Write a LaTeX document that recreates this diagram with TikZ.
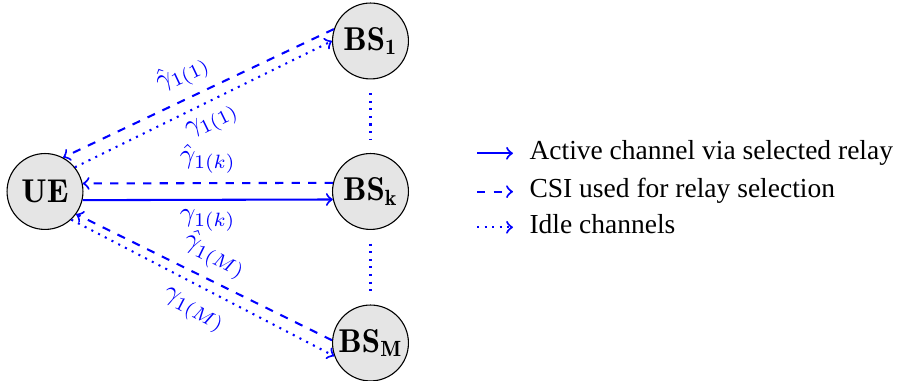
\documentclass[tikz,border=0pt]{standalone}
\usepackage{fontspec}
\newfontfamily\legendfont{Liberation Serif}
\begin{document}
\begin{tikzpicture}[x=0.3636pt,y=-0.3636pt,
  station/.style={circle,draw,fill=gray!20,minimum size=27.6pt,inner sep=-2pt,font=\large},
  link/.style={draw=blue,line width=0.75pt,->},
  active/.style={link,solid},
  csi/.style={link,dashed},
  idle/.style={link,dotted},
  gap/.style={draw=blue,line width=0.75pt,dotted,shorten >=5pt,shorten <=5pt},
  chanlabel/.style={text=blue,sloped,font=\normalsize},
  legendtext/.style={font=\legendfont,anchor=base west,inner sep=0pt}]
\useasboundingbox (0,0) rectangle (899,381);

% stations
\node[station] (UE)  at (45,191.5)  {$\mathbf{UE}$};
\node[station] (BS1) at (370.5,41)  {$\mathbf{BS_1}$};
\node[station] (BSk) at (370.5,191.5) {$\mathbf{BS_k}$};
\node[station] (BSM) at (370.5,343) {$\mathbf{BS_M}$};

% omitted relays
\draw[gap] (BS1) -- (BSk);
\draw[gap] (BSk) -- (BSM);

% relay 1
\draw[csi] (BS1.162) -- node[chanlabel,pos=0.52,above] (h1) {$\hat\gamma_{1(1)}$} (UE.62);
\draw[idle] (UE.39) -- node[chanlabel,pos=0.5,below] (g1) {$\gamma_{1(1)}$} (BS1.180);

% relay k
\draw[csi] (BSk.167.5) -- node[chanlabel,above] (hk) {$\hat\gamma_{1(k)}$} (UE.12.5);
\draw[active] (UE.347.5) -- node[chanlabel,below] (gk) {$\gamma_{1(k)}$} (BSk.192.5);

% relay M
\draw[csi] (BSM.176) -- node[chanlabel,pos=0.5,above] (hM) {$\hat\gamma_{1(M)}$} (UE.-36);
\draw[idle] (UE.-47) -- node[chanlabel,pos=0.507,below=1.5pt] (gM) {$\gamma_{1(M)}$} (BSM.200);

% legend
\coordinate (a1) at (477,153.3);  \coordinate (b1) at (513,153.3);
\coordinate (a2) at (477,191.7);  \coordinate (b2) at (513,191.7);
\coordinate (a3) at (477,227.3);  \coordinate (b3) at (513,227.3);
\draw[active] (a1) -- (b1);
\draw[csi]  (a2) -- (b2);
\draw[idle] (a3) -- (b3);
\node[legendtext] (t1) at (529,159.6) {Active channel via selected relay};
\node[legendtext] (t2) at (529,198.0) {CSI used for relay selection};
\node[legendtext] (t3) at (529,233.6) {Idle channels};
\end{tikzpicture}
\end{document}
